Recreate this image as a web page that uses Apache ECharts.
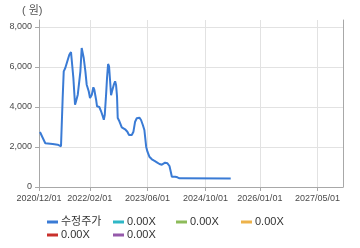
<!DOCTYPE html>
<html>
<head>
<meta charset="utf-8">
<script src="https://cdn.jsdelivr.net/npm/echarts@6/dist/echarts.min.js"></script>
<style>
html,body{margin:0;padding:0;background:#fff;}
#c{width:360px;height:248px;}
</style>
</head>
<body>
<div id="c"></div>
<script>
// ---- data ----
var priceDates = [
  '2020-12-09','2021-01-23','2021-03-26','2021-05-07','2021-06-04','2021-06-15','2021-06-18','2021-06-27',
  '2021-07-10','2021-07-31','2021-08-13','2021-08-27','2021-09-05','2021-09-16','2021-09-30','2021-10-08',
  '2021-10-23','2021-11-14','2021-11-25','2021-12-04','2021-12-12','2021-12-26','2022-01-06','2022-01-23',
  '2022-02-03','2022-02-18','2022-03-03','2022-03-11','2022-03-26','2022-04-03','2022-04-22','2022-05-07',
  '2022-05-21','2022-05-30','2022-06-07','2022-06-18','2022-06-26','2022-07-05','2022-07-13','2022-07-22',
  '2022-07-30','2022-08-07','2022-08-22','2022-09-02','2022-09-10','2022-09-18','2022-09-24','2022-10-08',
  '2022-10-28','2022-11-25','2022-12-14','2022-12-28','2023-01-20','2023-02-03','2023-02-17','2023-03-03',
  '2023-03-25','2023-04-08','2023-04-23','2023-05-06','2023-05-21','2023-06-01','2023-06-17','2023-07-08',
  '2023-07-27','2023-08-19','2023-09-10','2023-09-30','2023-10-27','2023-11-16','2023-12-03','2023-12-14',
  '2023-12-23','2024-01-20','2024-02-08','2024-02-25','2025-05-01'
];
var priceValues = [
  2750,2185,2150,2115,2035,2030,4450,5785,
  5950,6365,6615,6750,6700,5450,4115,4280,
  4615,5785,6950,7020,6450,5785,5115,4785,
  4450,4615,4985,4865,4365,4035,4000,3785,
  3535,3365,3615,4615,5450,6150,6035,5285,
  4585,4785,5115,5285,5100,4535,3450,3285,
  2985,2885,2765,2600,2600,2765,3265,3435,
  3465,3350,3100,2850,2015,1765,1515,1385,
  1315,1235,1150,1115,1215,1185,1050,765,
  515,515,485,435,430
];
var seriesNames = ['수정주가','0.00X','0.00X ','0.00X  ','0.00X   ','0.00X    '];
var seriesColors = ['#3a7bd5','#2fb7c6','#8dbb5a','#edb24a','#c9302c','#9559aa'];
var xTickDates = ['2020-12-01','2022-02-01','2023-06-01','2024-10-01','2026-01-01','2027-05-01'];
var xRange = ['2020-12-01','2027-12-01'];
var yTicks = [0,2000,4000,6000,8000];
var yMax = 8350;

function ts(s){ var p = s.split('-'); return new Date(+p[0], +p[1]-1, +p[2]).getTime(); }
function pad(n){ return (n<10?'0':'')+n; }

var FONT = "'Liberation Sans','Noto Sans CJK KR',sans-serif";
var chart = echarts.init(document.getElementById('c'), null, {renderer:'canvas'});

var priceData = priceDates.map(function(d,i){ return [ts(d), priceValues[i]]; });

var series = seriesNames.map(function(n,i){
  return {
    name: n, type: 'line', data: i===0 ? priceData : [],
    showSymbol: false, symbol: 'none',
    lineStyle: {width: 2, color: seriesColors[i]},
    itemStyle: {color: seriesColors[i]},
    animation: false
  };
});

var legendPos = [[47,216],[113,216],[176,216],[241,216],[47,229],[113,229]];
var legends = seriesNames.map(function(n,i){
  return {
    data: [n], left: legendPos[i][0], top: legendPos[i][1], padding: 0,
    icon: 'rect', itemWidth: 11, itemHeight: 3, itemGap: 0,
    formatter: function(name){ return name.trim(); },
    textStyle: {fontSize: 11, color: '#333', fontFamily: FONT, lineHeight: 12, padding: [0,0,0,-2]},
    selectedMode: false
  };
});

var xTickVals = xTickDates.map(ts);

chart.setOption({
  animation: false,
  backgroundColor: '#ffffff',
  title: {text: '( 원)', left: 22, top: 5, padding: 0,
    textStyle: {fontSize: 11, fontWeight: 'normal', color: '#555', fontFamily: FONT}},
  legend: legends,
  grid: {left: 39, right: 17, top: 20, bottom: 61, containLabel: false},
  xAxis: {
    type: 'value', min: ts(xRange[0]), max: ts(xRange[1]), scale: true,
    axisLine: {show: true, onZero: false, lineStyle: {color: '#a8a8a8', width: 1}},
    axisTick: {show: true, length: 4, lineStyle: {color: '#a8a8a8'}, customValues: xTickVals},
    axisLabel: {
      customValues: xTickVals, margin: 7, fontSize: 9, color: '#4a4a4a', fontFamily: FONT,
      hideOverlap: false,
      formatter: function(v){ var d = new Date(v); return d.getFullYear()+'/'+pad(d.getMonth()+1)+'/'+pad(d.getDate()); }
    },
    splitLine: {show: true, lineStyle: {color: '#e2e2e2', width: 1}}
  },
  yAxis: [{
    type: 'value', min: 0, max: yMax, position: 'left',
    axisLine: {show: true, lineStyle: {color: '#a8a8a8', width: 1}},
    axisTick: {show: true, length: 4, lineStyle: {color: '#a8a8a8'}, customValues: yTicks},
    axisLabel: {customValues: yTicks, margin: 7, fontSize: 9, color: '#4a4a4a', fontFamily: FONT,
      formatter: function(v){ return echarts.format.addCommas(v); }},
    splitLine: {show: true, lineStyle: {color: '#e2e2e2', width: 1}}
  },{
    type: 'value', min: 0, max: yMax, position: 'right',
    axisLine: {show: true, lineStyle: {color: '#a8a8a8', width: 1}},
    axisTick: {show: false}, axisLabel: {show: false}, splitLine: {show: false}
  }],
  series: series
});
</script>
</body>
</html>
